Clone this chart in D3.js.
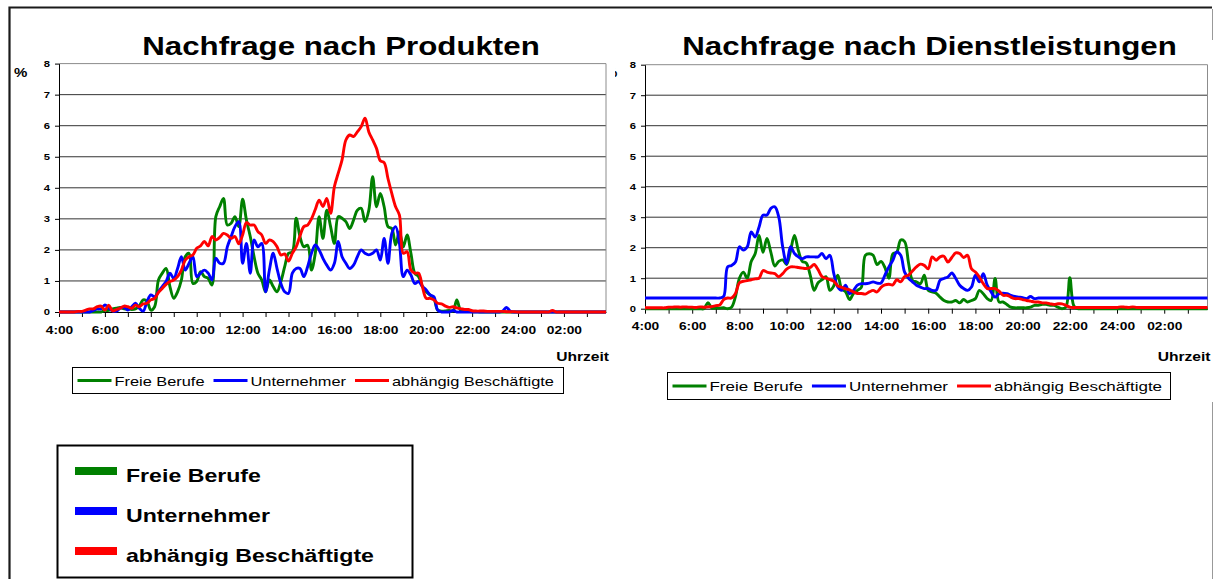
<!DOCTYPE html>
<html>
<head>
<meta charset="utf-8">
<script src="https://cdn.jsdelivr.net/npm/d3@7"></script>
<style>
  body { margin: 0; background: #fff; }
  svg text { font-family: "Liberation Sans", Arial, sans-serif; fill: #000; }
</style>
</head>
<body>
<svg id="chart" width="1214" height="579"></svg>
<script>
// 10-minute slots from 4:00 to 3:50 (144 values per series)
const hourLabels = ['4:00', '6:00', '8:00', '10:00', '12:00', '14:00', '16:00', '18:00', '20:00', '22:00', '24:00', '02:00'];
const seriesNames = ['Freie Berufe', 'Unternehmer', 'abhängig Beschäftigte'];
const seriesColors = ['#008000', '#0000ff', '#ff0000'];

// Nachfrage nach Produkten
const prodFrei = [
  0,0,0,0,0,0, 0,0,0,0,0,0,
  0.05,0.05,0.1,0.12,0.15,0.1, 0.1,0.08,0.1,0.2,0.39,0.35,
  0.06,0.17,1.03,1.25,1.4,0.82, 0.44,0.65,1.03,1.78,1.89,0.92,
  0.98,1.3,1.14,1.08,0.87,3.07, 3.39,3.66,2.8,2.86,3.07,2.75,
  3.63,2.96,2.43,1.78,1.25,1.03, 0.65,1.03,0.82,0.65,0.98,1.46,
  1.89,1.94,3.02,2.43,2.1,2.15, 1.35,1.89,3.07,2.37,3.28,2.75,
  2.21,3.07,3.02,2.91,2.69,2.96, 3.28,3.34,2.91,3.28,4.36,3.39,
  3.82,3.39,2.75,2.69,2.16,2.59, 2.1,2.48,1.89,1.25,1.14,0.82,
  0.65,0.55,0.44,0.06,0.03,0.03, 0.05,0.03,0.39,0.05,0.02,0.02,
  0.01,0.01,0,0,0,0, 0,0,0,0,0,0,
  0,0,0,0,0,0, 0,0,0,0,0,0,
  0,0,0,0,0,0, 0,0,0,0,0,0
];
const prodUnt = [
  0,0,0,0,0,0, 0,0,0,0.05,0.1,0.1,
  0.23,0.12,0.04,0.03,0.12,0.15, 0.06,0.17,0.28,0.12,0.03,0.33,
  0.55,0.49,0.65,0.82,0.98,1.25, 1.08,1.4,1.78,1.35,1.57,1.78,
  1.14,1.25,1.35,1.25,1.03,1.73, 1.57,1.57,2.1,2.43,2.75,2.91,
  1.57,2.21,1.25,2.32,2.1,2.21, 0.65,1.35,1.89,1.4,0.92,0.65,
  0.6,1.25,1.4,1.4,1.14,1.46, 1.89,2.16,2.0,1.73,1.51,1.35,
  1.57,2.27,1.78,1.57,1.4,1.51, 1.78,2.0,1.89,1.84,1.89,2.0,
  1.67,2.37,1.57,2.53,2.75,2.21, 1.14,1.35,1.19,0.92,0.98,0.82,
  0.71,0.55,0.49,0.06,0,0, 0,0.05,0,0,0,0,
  0,0,0,0,0,0, 0,0,0.03,0.15,0.02,0,
  0,0,0,0,0,0, 0,0,0,0,0,0,
  0,0,0,0,0,0, 0,0,0,0,0,0
];
const prodAbh = [
  0,0,0,0,0,0.02, 0.02,0.06,0.1,0.1,0.17,0.19,
  0.06,0.22,0.04,0.08,0.12,0.19, 0.17,0.12,0.22,0.17,0.26,0.28,
  0.39,0.44,0.63,0.76,0.89,0.98, 1.03,1.14,1.35,1.67,1.78,1.84,
  2.05,2.13,2.27,2.13,2.43,2.32, 2.4,2.53,2.48,2.37,2.43,2.2,
  2.48,2.88,2.8,2.8,2.59,2.48, 2.21,2.32,2.27,2.1,1.84,1.87,
  1.64,1.89,2.1,2.45,2.75,2.8, 3.0,3.3,3.6,3.4,3.66,3.18,
  4.04,4.47,4.9,5.54,5.7,5.65, 5.8,5.97,6.24,5.8,5.54,5.27,
  4.87,4.81,4.3,3.82,3.39,3.12, 1.89,1.94,1.35,1.25,1.25,0.82,
  0.44,0.44,0.39,0.28,0.26,0.19, 0.15,0.17,0.13,0.11,0.08,0.08,
  0.04,0.03,0.03,0.03,0.02,0.02, 0.02,0.02,0.02,0.01,0.01,0.01,
  0,0,0,0,0,0, 0,0,0,0.05,0,0,
  0,0,0,0,0,0, 0,0,0,0,0,0
];

// Nachfrage nach Dienstleistungen
const dienstFrei = [
  0,0,0,0,0,0, 0,0,0,0,0,0,
  0,0,0,0,0.2,0.02, 0.02,0.02,0.03,0,0.05,0.4,
  1.0,1.2,1.0,1.55,1.8,2.4, 1.85,2.3,1.85,1.4,1.55,1.6,
  1.45,1.9,2.4,1.9,1.55,1.5, 1.1,0.6,0.85,0.95,1.05,0.6,
  0.75,1.1,0.65,0.55,0.3,0.5, 0.6,0.7,1.75,1.8,1.75,1.45,
  1.55,1.35,1.0,1.8,1.85,2.25, 2.2,1.5,0.93,0.88,0.82,1.1,
  0.6,0.55,0.51,0.38,0.27,0.22, 0.22,0.27,0.19,0.3,0.22,0.27,
  0.33,0.6,0.49,0.33,0.27,0.99, 0.22,0.22,0.14,0.05,0.03,0.03,
  0.03,0.03,0.05,0.11,0.11,0.14, 0.14,0.11,0.11,0.05,0,0.05,
  1.02,0.1,0,0,0,0, 0,0,0,0,0,0,
  0,0,0,0,0,0, 0,0,0,0,0,0,
  0,0,0,0,0,0, 0,0,0,0,0,0
];
const dienstUnt = [
  0.35,0.35,0.35,0.35,0.35,0.35, 0.35,0.35,0.35,0.35,0.35,0.35,
  0.35,0.35,0.35,0.35,0.35,0.35, 0.35,0.35,0.4,1.37,1.42,1.53,
  2.03,1.92,2.03,2.52,2.35,2.68, 3.07,3.07,3.29,3.34,3.01,2.03,
  1.48,2.03,1.81,1.7,1.64,1.7, 1.7,1.7,1.7,1.81,1.64,1.75,
  1.15,0.71,0.6,0.77,0.49,0.6, 0.77,0.82,0.82,0.84,0.88,0.84,
  0.84,1.1,1.37,1.59,1.86,1.75, 1.2,1.0,0.88,0.77,0.71,0.66,
  0.66,0.6,0.6,0.93,0.99,1.04, 1.17,0.99,0.77,0.66,0.6,0.71,
  1.1,0.88,1.15,0.77,0.55,0.38, 0.49,0.51,0.49,0.44,0.4,0.38,
  0.36,0.33,0.4,0.33,0.35,0.35, 0.35,0.35,0.35,0.35,0.35,0.35,
  0.35,0.35,0.35,0.35,0.35,0.35, 0.35,0.35,0.35,0.35,0.35,0.35,
  0.35,0.35,0.35,0.35,0.35,0.35, 0.35,0.35,0.35,0.35,0.35,0.35,
  0.35,0.35,0.35,0.35,0.35,0.35, 0.35,0.35,0.35,0.35,0.35,0.35
];
const dienstAbh = [
  0.03,0.03,0.03,0.03,0.03,0.03, 0.05,0.05,0.06,0.05,0.06,0.05,
  0.05,0.04,0.06,0.05,0.06,0.07, 0.1,0.12,0.3,0.35,0.35,0.5,
  0.85,0.9,0.92,0.95,0.98,1.0, 1.25,1.2,1.17,1.15,1.05,1.15,
  1.3,1.37,1.37,1.35,1.33,1.32, 1.35,1.45,1.28,1.05,1.0,0.95,
  0.9,0.75,0.7,0.65,0.62,0.55, 0.5,0.5,0.48,0.55,0.6,0.55,
  0.7,0.78,0.8,0.78,0.95,0.88, 1.05,1.1,1.24,1.37,1.46,1.42,
  1.31,1.7,1.59,1.7,1.72,1.53, 1.68,1.83,1.81,1.68,1.75,1.31,
  1.2,1.04,0.82,0.66,0.66,0.66, 0.58,0.44,0.44,0.38,0.33,0.33,
  0.3,0.27,0.25,0.22,0.22,0.19, 0.19,0.16,0.14,0.16,0.16,0.11,
  0.05,0.04,0.04,0.04,0.04,0.04, 0.04,0.04,0.04,0.04,0.04,0.04,
  0.04,0.06,0.05,0.04,0.06,0.04, 0.04,0.04,0.04,0.04,0.04,0.04,
  0.04,0.04,0.04,0.04,0.04,0.04, 0.04,0.04,0.04,0.04,0.04,0.04
];

// the original picture is stretched sideways, so text gets the same stretch
const SX = 1.25;

const svg = d3.select('#chart');

function addText(parent, x, y, str, size, bold, anchor) {
  return parent.append('text')
    .attr('transform', `translate(${x},${y}) scale(${SX},1)`)
    .attr('font-size', size)
    .attr('font-weight', bold ? 'bold' : 'normal')
    .attr('text-anchor', anchor || 'start')
    .text(str);
}

function drawPanel(cfg, data) {
  const g = svg.append('g');

  if (cfg.bg) {
    g.append('rect').attr('x', cfg.bg[0]).attr('y', cfg.bg[1])
      .attr('width', cfg.bg[2]).attr('height', cfg.bg[3]).attr('fill', '#fff');
  }

  const x = d3.scaleLinear().domain([0, data[0].length - 1]).range([cfg.left, cfg.right]);
  const y = d3.scaleLinear().domain([0, 8]).range([cfg.bottom, cfg.top]);

  addText(g, cfg.titleX, 55, cfg.title, 25, true, 'middle');
  addText(g, cfg.pctX, 77, '%', 12, true);

  // gridlines
  g.append('g').selectAll('line')
    .data(d3.range(1, 8))
    .join('line')
    .attr('x1', cfg.left).attr('x2', cfg.right)
    .attr('y1', d => y(d)).attr('y2', d => y(d))
    .attr('stroke', '#333').attr('stroke-width', 1);

  g.append('path')
    .attr('d', `M${cfg.left},${y(8)}H${cfg.right}V${cfg.bottom}`)
    .attr('fill', 'none').attr('stroke', '#8c8c8c');

  const xAxis = d3.axisBottom(x)
    .tickValues(d3.range(0, data[0].length, 6))
    .tickSize(5).tickSizeOuter(0).tickPadding(9)
    .tickFormat(i => i % 12 === 0 ? hourLabels[i / 12] : '');

  const yAxis = d3.axisLeft(y)
    .tickValues(d3.range(0, 9))
    .tickSize(4).tickSizeOuter(0).tickPadding(5)
    .tickFormat(d3.format('d'));

  const xg = g.append('g')
    .attr('transform', `translate(0,${cfg.bottom})`)
    .call(xAxis);
  xg.selectAll('text')
    .attr('font-size', 11).attr('font-weight', 'bold')
    .attr('transform', `scale(${SX},1)`);

  const yg = g.append('g')
    .attr('transform', `translate(${cfg.left},0)`)
    .call(yAxis);
  yg.selectAll('text')
    .attr('font-size', 9).attr('font-weight', 'bold')
    .attr('x', -9 / SX)
    .attr('transform', `scale(${SX},1)`);

  g.selectAll('.domain, .tick line').attr('stroke', '#000');

  addText(g, cfg.right + 3, 361, 'Uhrzeit', 12.5, true, 'end');

  // series lines
  const line = d3.line()
    .x((d, i) => x(i))
    .y(d => y(d))
    .curve(d3.curveCatmullRom.alpha(0.5));

  g.append('g').selectAll('path')
    .data(data)
    .join('path')
    .attr('d', line)
    .attr('fill', 'none')
    .attr('stroke', (d, i) => seriesColors[i])
    .attr('stroke-width', 2.9)
    .attr('stroke-linejoin', 'round');

  // legend box under the plot
  const lg = g.append('g');
  const box = cfg.legend;
  lg.append('rect')
    .attr('x', box.x).attr('y', box.y)
    .attr('width', box.w).attr('height', box.h)
    .attr('fill', '#fff').attr('stroke', '#000');
  let cx = box.x + 5;
  const cy = box.y + box.h / 2;
  seriesNames.forEach((name, i) => {
    lg.append('line')
      .attr('x1', cx).attr('x2', cx + 34)
      .attr('y1', cy).attr('y2', cy)
      .attr('stroke', seriesColors[i]).attr('stroke-width', 2.9);
    const t = addText(lg, cx + 37, cy + 5, name, box.font, false);
    cx += 37 + t.node().getComputedTextLength() * SX + box.gap;
  });
}

// outer frame
svg.append('path')
  .attr('d', 'M9.5,579V7.5H1212')
  .attr('fill', 'none').attr('stroke', '#1a1a1a').attr('stroke-width', 2.2);
svg.append('path')
  .attr('d', 'M1212.5,9V40M1212.5,402V579')
  .attr('fill', 'none').attr('stroke', '#999');

drawPanel({
  left: 645, right: 1207.5, top: 64.7, bottom: 308.7,
  title: 'Nachfrage nach Dienstleistungen', titleX: 929.5, pctX: 604,
  legend: { x: 667.5, y: 372.5, w: 503, h: 27, font: 13.6, gap: 9 }
}, [dienstFrei, dienstUnt, dienstAbh]);

drawPanel({
  left: 59, right: 606, top: 63.6, bottom: 312,
  title: 'Nachfrage nach Produkten', titleX: 341, pctX: 14,
  bg: [11, 9, 604, 405],
  legend: { x: 72.5, y: 367.5, w: 491, h: 26, font: 13.1, gap: 9 }
}, [prodFrei, prodUnt, prodAbh]);

// large legend bottom left
const big = svg.append('g');
big.append('rect')
  .attr('x', 57.5).attr('y', 445.5).attr('width', 355).attr('height', 132)
  .attr('fill', '#fff').attr('stroke', '#000').attr('stroke-width', 2);
seriesNames.forEach((name, i) => {
  const rowY = 482 + i * 40;
  big.append('rect')
    .attr('x', 75).attr('y', rowY - 15)
    .attr('width', 42).attr('height', 8)
    .attr('fill', seriesColors[i]);
  addText(big, 126, rowY, name, 18.5, true);
});
</script>
</body>
</html>
